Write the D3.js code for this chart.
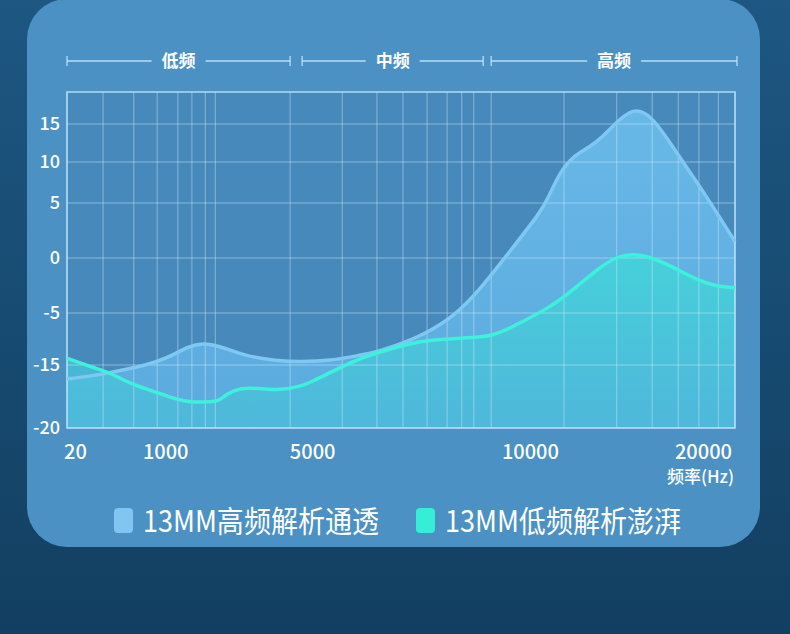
<!DOCTYPE html>
<html>
<head>
<meta charset="utf-8">
<script src="https://cdn.jsdelivr.net/npm/d3@7"></script>
<style>
  html, body { margin: 0; padding: 0; background: #174a6f; }
  svg { display: block; font-family: "Noto Sans CJK SC", "Noto Sans", sans-serif; }
</style>
</head>
<body>
<div id="chart"></div>
<script>
var svgWidth = 790;
var svgHeight = 634;

// band headers above the plot (positions in % of the frequency axis)
var bandLabels = ["低频", "中频", "高频"];
var bandStart = [0, 35.2, 63.5];
var bandEnd = [33.4, 62.3, 100.3];

// vertical grid lines (% of the frequency axis)
var gridX = [0, 5.4, 10.0, 13.5, 16.6, 18.7, 20.7, 22.2, 33.4, 41.2, 46.4, 50.3,
  53.9, 56.9, 59.1, 60.9, 63.5, 74.4, 82.3, 87.6, 91.5, 94.6, 97.5, 100];

// x tick labels
var freqLabels = ["20", "1000", "5000", "10000", "20000"];
var freqPos = [1.2, 14.7, 36.7, 69.3, 95.2];

// y ticks (dB)
var dbTicks = [15, 10, 5, 0, -5, -15, -20];

// 13MM 高频 curve
var highPos = [0, 3.4, 6.4, 10.2, 13.5, 16.2, 18.0, 20.4, 22.5, 26.7, 31.4, 34.9, 39.4,
  43.9, 46.4, 49.9, 53.3, 57.8, 61.8, 66.8, 70.8, 71.9, 73.8, 75.8, 78.3, 80.2, 82.3,
  84.3, 85.8, 87.7, 90.7, 93.3, 95.8, 98.2, 100];
var highDb = [-16.1, -15.9, -15.6, -15.2, -14.4, -12.9, -11.5, -10.8, -11.2, -13.3, -14.2,
  -14.4, -14.2, -13.1, -12.5, -11.0, -9.2, -5.8, -2.9, 1.0, 4.1, 5.4, 8.8, 10.8, 12.0,
  13.3, 15.3, 16.7, 16.8, 15.8, 12.0, 8.7, 5.7, 3.2, 1.5];

// 13MM 低频 curve
var lowPos = [0, 3.9, 6.9, 9.0, 13.6, 16.2, 18.9, 21.4, 22.5, 23.5, 24.9, 27.0, 29.6,
  31.9, 34.9, 36.4, 41.3, 43.9, 46.9, 52.8, 59.3, 63.8, 67.8, 72.3, 75.8, 79.8, 82.3,
  84.7, 87.3, 90.7, 94.3, 97.3, 100];
var lowDb = [-13.7, -15.2, -15.7, -16.4, -17.2, -17.7, -18.0, -17.9, -17.9, -17.5, -17.0,
  -16.8, -16.9, -17.0, -16.7, -16.4, -15.1, -13.7, -12.5, -10.2, -9.8, -9.6, -6.9, -4.5,
  -2.9, -0.8, 0.1, 0.4, 0.1, -0.8, -2.0, -2.6, -2.7];

var legendLabels = ["13MM高频解析通透", "13MM低频解析澎湃"];
var legendColors = ["#80c6f0", "#36eed8"];

var plot = { left: 67, right: 735, top: 92, bottom: 428 };

var svg = d3.select("#chart")
  .append("svg")
  .attr("width", svgWidth)
  .attr("height", svgHeight);

var defs = svg.append("defs");

var bgGrad = defs.append("linearGradient")
  .attr("id", "bgGrad").attr("x1", 0).attr("y1", 0).attr("x2", 0).attr("y2", 1);
bgGrad.append("stop").attr("offset", "0%").attr("stop-color", "#1d5782");
bgGrad.append("stop").attr("offset", "100%").attr("stop-color", "#123f61");

var highGrad = defs.append("linearGradient")
  .attr("id", "highGrad").attr("x1", 0).attr("y1", 0).attr("x2", 0).attr("y2", 1);
highGrad.append("stop").attr("offset", "0%").attr("stop-color", "#6cbdec");
highGrad.append("stop").attr("offset", "100%").attr("stop-color", "#5eaee2");

var lowGrad = defs.append("linearGradient")
  .attr("id", "lowGrad").attr("x1", 0).attr("y1", 0).attr("x2", 0).attr("y2", 1);
lowGrad.append("stop").attr("offset", "0%").attr("stop-color", "#3fd8d8");
lowGrad.append("stop").attr("offset", "100%").attr("stop-color", "#4cbada");

// background + card
svg.append("rect")
  .attr("width", svgWidth)
  .attr("height", svgHeight)
  .attr("fill", "url(#bgGrad)");

svg.append("rect")
  .attr("x", 27)
  .attr("y", -1)
  .attr("width", 733)
  .attr("height", 548)
  .attr("rx", 40)
  .attr("fill", "#4b91c3");

// scales (the axis in the picture is drawn unevenly, so both are piecewise)
var xScale = d3.scaleLinear()
  .domain([0, 100])
  .range([plot.left, plot.right]);

var yScale = d3.scaleLinear()
  .domain([-20, -15, -5, 0, 5, 10, 15, 19.2])
  .range([428, 365, 313, 258, 203, 162, 124, 92]);

var chartGroup = svg.append("g");

chartGroup.append("rect")
  .attr("x", plot.left)
  .attr("y", plot.top)
  .attr("width", plot.right - plot.left)
  .attr("height", plot.bottom - plot.top)
  .attr("fill", "#4789bb");

// areas
var highArea = d3.area()
  .x(function(d, i) { return xScale(highPos[i]); })
  .y0(yScale(-20))
  .y1(function(d) { return yScale(d); })
  .curve(d3.curveBasis);

var lowArea = d3.area()
  .x(function(d, i) { return xScale(lowPos[i]); })
  .y0(yScale(-20))
  .y1(function(d) { return yScale(d); })
  .curve(d3.curveBasis);

chartGroup.append("path")
  .attr("d", highArea(highDb))
  .attr("fill", "url(#highGrad)")
  .attr("opacity", 0.9);

chartGroup.append("path")
  .attr("d", lowArea(lowDb))
  .attr("fill", "url(#lowGrad)")
  .attr("opacity", 0.8);

// grid
chartGroup.append("g")
  .selectAll("line")
  .data(gridX)
  .enter()
  .append("line")
  .attr("x1", function(d) { return xScale(d); })
  .attr("x2", function(d) { return xScale(d); })
  .attr("y1", plot.top)
  .attr("y2", plot.bottom)
  .attr("stroke", "rgba(215,240,255,0.45)")
  .attr("stroke-width", 1);

chartGroup.append("g")
  .selectAll("line")
  .data(dbTicks)
  .enter()
  .append("line")
  .attr("x1", plot.left)
  .attr("x2", plot.right)
  .attr("y1", function(d) { return yScale(d); })
  .attr("y2", function(d) { return yScale(d); })
  .attr("stroke", "rgba(215,240,255,0.45)")
  .attr("stroke-width", 1);

chartGroup.append("rect")
  .attr("x", plot.left)
  .attr("y", plot.top)
  .attr("width", plot.right - plot.left)
  .attr("height", plot.bottom - plot.top)
  .attr("fill", "none")
  .attr("stroke", "rgba(190,232,255,0.85)")
  .attr("stroke-width", 1.5);

// curve lines
var highLine = d3.line()
  .x(function(d, i) { return xScale(highPos[i]); })
  .y(function(d) { return yScale(d); })
  .curve(d3.curveBasis);

var lowLine = d3.line()
  .x(function(d, i) { return xScale(lowPos[i]); })
  .y(function(d) { return yScale(d); })
  .curve(d3.curveBasis);

chartGroup.append("path")
  .attr("d", highLine(highDb))
  .attr("fill", "none")
  .attr("stroke", "#7ec8f2")
  .attr("stroke-width", 3.5)
  .attr("stroke-linejoin", "round");

chartGroup.append("path")
  .attr("d", lowLine(lowDb))
  .attr("fill", "none")
  .attr("stroke", "#3ff0dd")
  .attr("stroke-width", 3.5)
  .attr("stroke-linejoin", "round");

// axes
var bottomAxis = d3.axisBottom(xScale)
  .tickValues(freqPos)
  .tickFormat(function(d, i) { return freqLabels[i]; })
  .tickSize(0)
  .tickPadding(17);

var xAxis = svg.append("g")
  .attr("transform", `translate(0, ${plot.bottom})`)
  .call(bottomAxis);

var leftAxis = d3.axisLeft(yScale)
  .tickValues(dbTicks)
  .tickFormat(function(d) { return String(d); })   // plain hyphen like the picture
  .tickSize(0)
  .tickPadding(7);

var yAxis = svg.append("g")
  .attr("transform", `translate(${plot.left}, 0)`)
  .call(leftAxis);

[xAxis, yAxis].forEach(function(ax) {
  ax.select(".domain").remove();
  ax.selectAll("text")
    .attr("fill", "#ffffff")
    .style("font-family", "\"Noto Sans CJK SC\", sans-serif")
    .style("font-weight", "500");
});
xAxis.selectAll("text").style("font-size", "20px");
yAxis.selectAll("text").style("font-size", "18px");

svg.append("text")
  .attr("x", 734)
  .attr("y", 483)
  .attr("text-anchor", "end")
  .attr("fill", "#ffffff")
  .style("font-size", "17px")
  .style("font-weight", "500")
  .text("频率(Hz)");

// band headers
var headerY = 61;
var bands = svg.append("g");
bandLabels.forEach(function(label, i) {
  var x0 = xScale(bandStart[i]);
  var x1 = xScale(bandEnd[i]);
  var xm = (x0 + x1) / 2;
  var g = bands.append("g");
  [[x0, xm - 27], [xm + 27, x1]].forEach(function(seg) {
    g.append("line")
      .attr("x1", seg[0]).attr("x2", seg[1])
      .attr("y1", headerY).attr("y2", headerY)
      .attr("stroke", "rgba(200,235,255,0.85)")
      .attr("stroke-width", 1.3);
  });
  [x0, x1].forEach(function(xx) {
    g.append("line")
      .attr("x1", xx).attr("x2", xx)
      .attr("y1", headerY - 5).attr("y2", headerY + 5)
      .attr("stroke", "rgba(200,235,255,0.85)")
      .attr("stroke-width", 1.3);
  });
  g.append("text")
    .attr("x", xm)
    .attr("y", headerY)
    .attr("dy", "0.36em")
    .attr("text-anchor", "middle")
    .attr("fill", "#ffffff")
    .style("font-size", "17px")
    .style("font-weight", "bold")
    .text(label);
});

// legend
var legendX = [114, 416];
var legend = svg.append("g");
legendLabels.forEach(function(label, i) {
  legend.append("rect")
    .attr("x", legendX[i])
    .attr("y", 508)
    .attr("width", 19)
    .attr("height", 25)
    .attr("rx", 4)
    .attr("fill", legendColors[i]);
  legend.append("text")
    .attr("x", legendX[i] + 29)
    .attr("y", 532)
    .attr("fill", "#ffffff")
    .attr("textLength", 236)
    .attr("lengthAdjust", "spacingAndGlyphs")
    .style("font-size", "30px")
    .text(label);
});
</script>
</body>
</html>
